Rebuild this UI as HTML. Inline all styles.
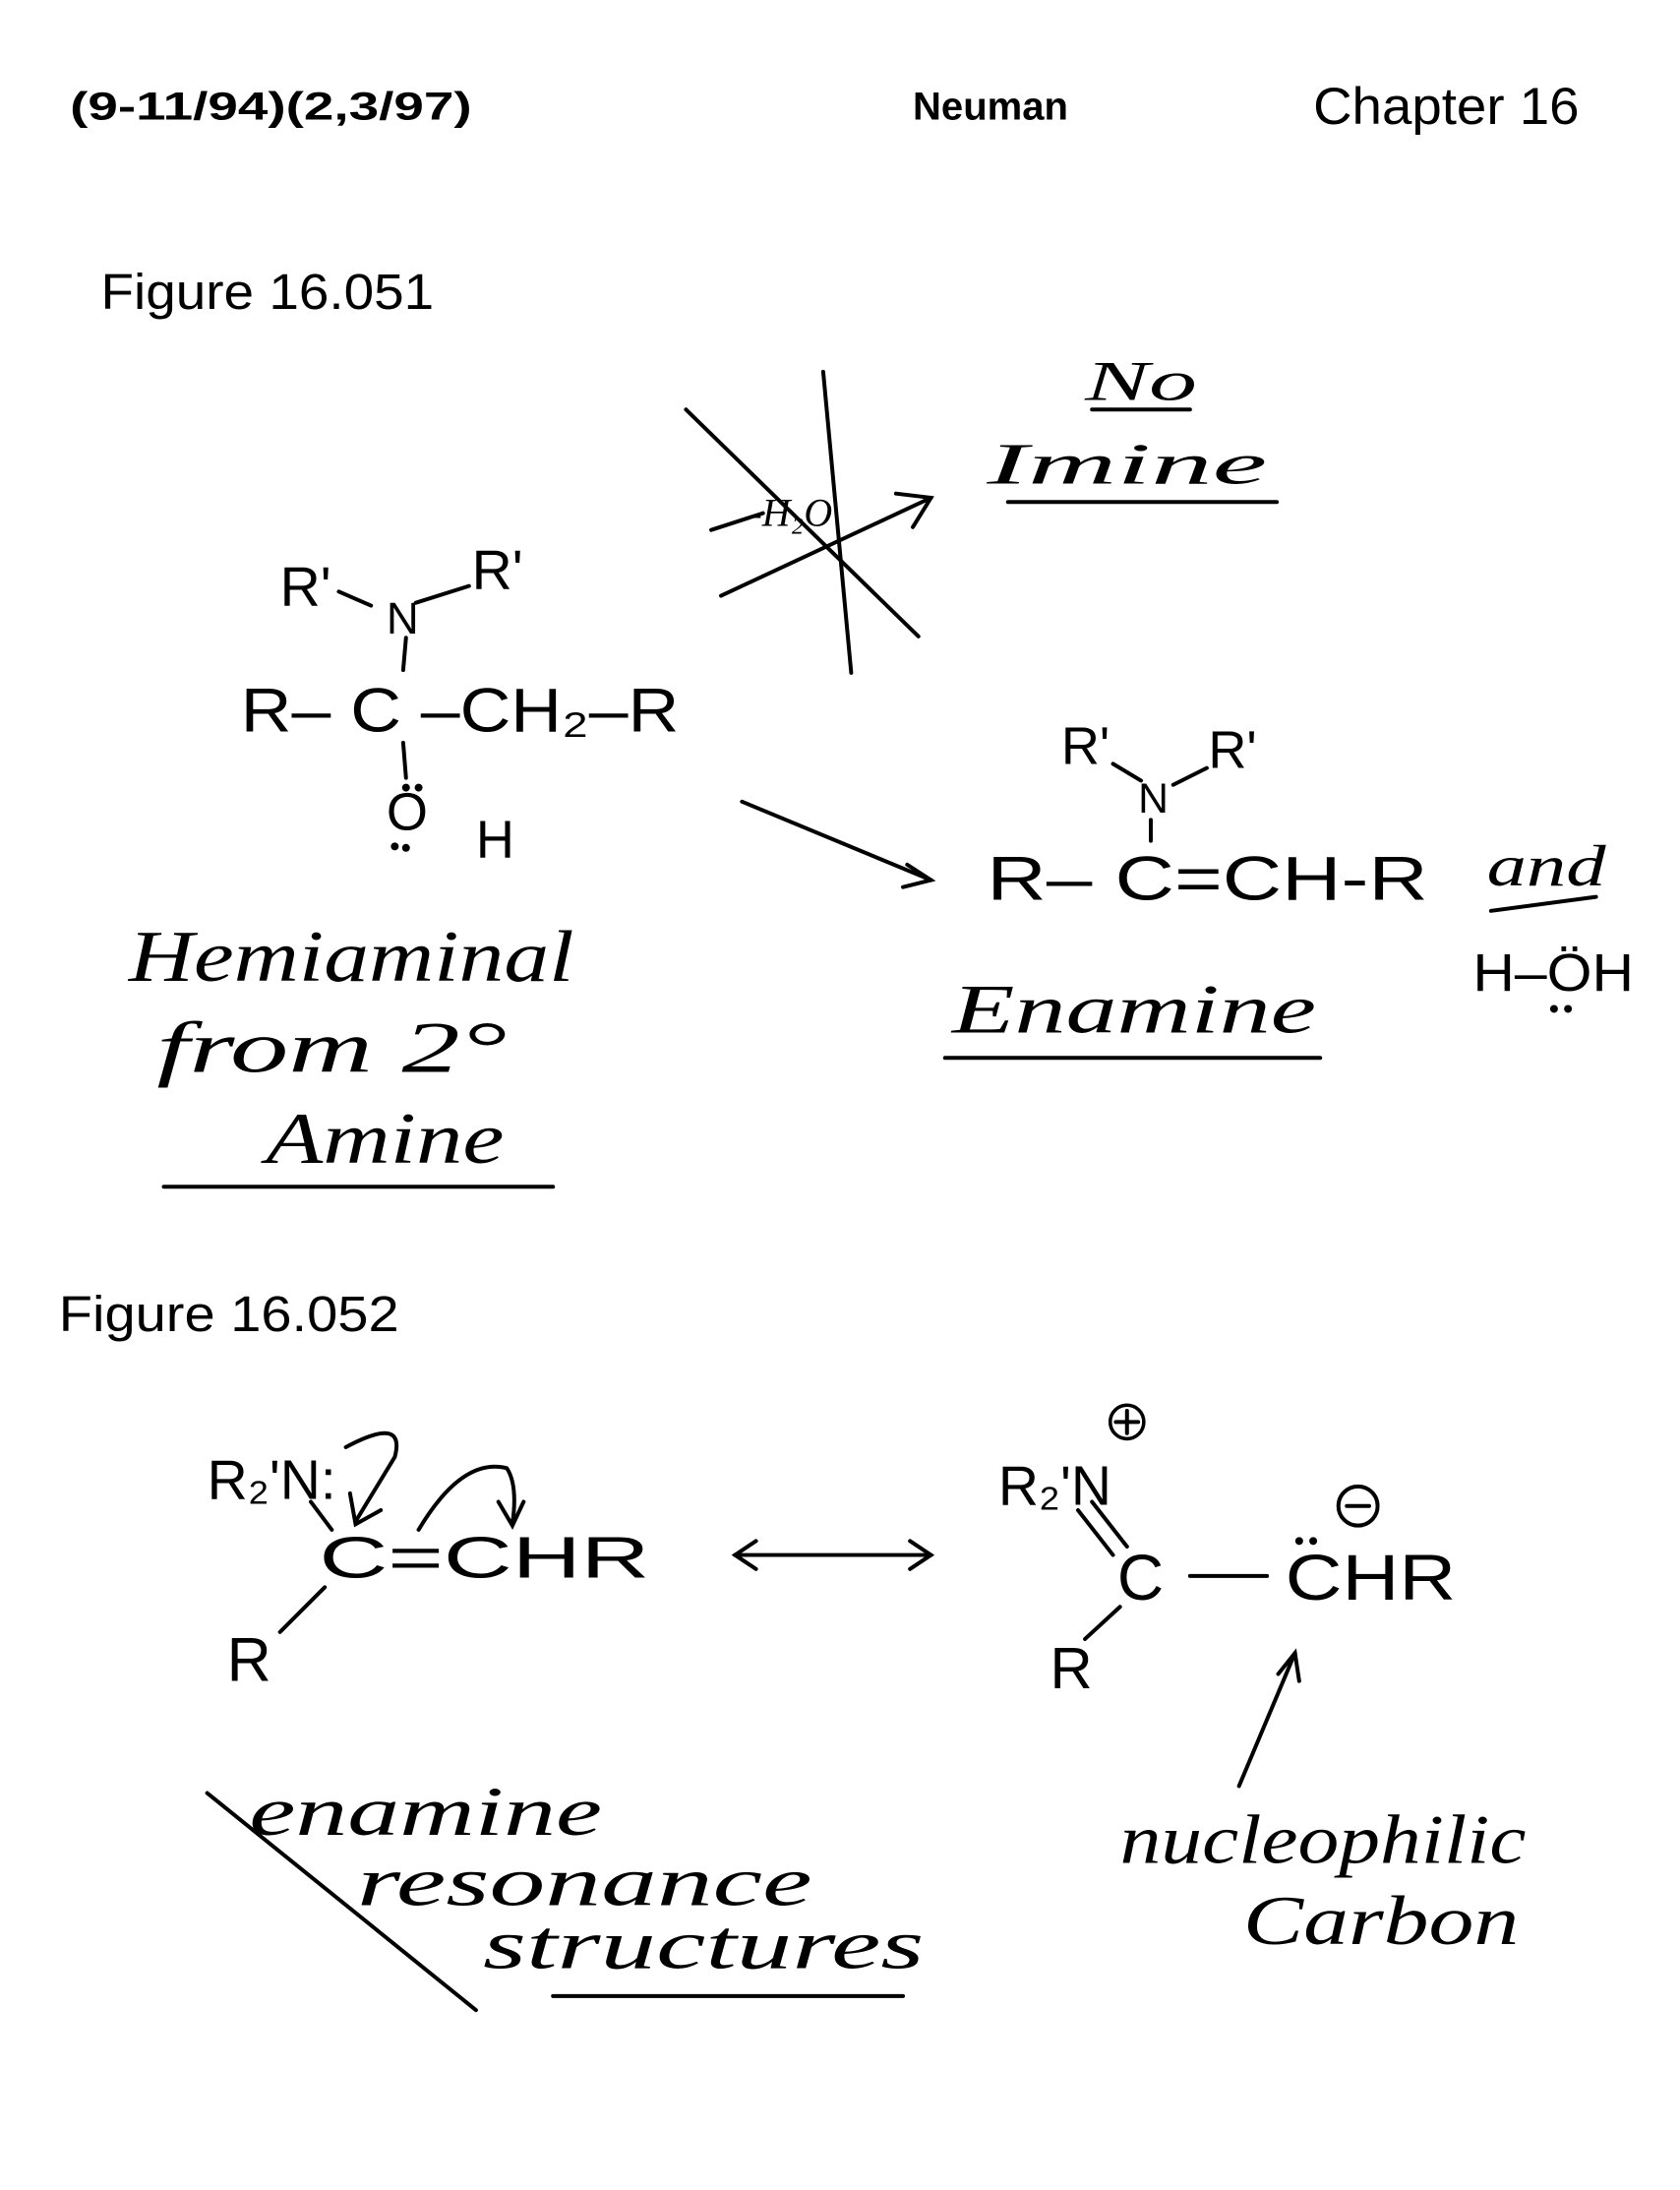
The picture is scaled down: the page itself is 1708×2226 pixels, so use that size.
<!DOCTYPE html>
<html><head><meta charset="utf-8"><style>
html,body{margin:0;padding:0;background:#fff}
svg{display:block}
.h{font-family:"Liberation Sans",sans-serif;fill:#000}
.w{font-family:"Liberation Serif",serif;font-style:italic;fill:#000}
.c{font-family:"Liberation Sans",sans-serif;fill:#000}
line,path,polyline{stroke:#000;stroke-width:2.8;fill:none;stroke-linecap:round}
</style></head><body>
<svg width="1708" height="2226" viewBox="0 0 1200 1563" xmlns="http://www.w3.org/2000/svg">
<text class="h" x="50" y="85" font-size="28" font-weight="bold" textLength="287" lengthAdjust="spacingAndGlyphs">(9-11/94)(2,3/97)</text>
<text class="h" x="652" y="85" font-size="28" font-weight="bold" textLength="111" lengthAdjust="spacingAndGlyphs">Neuman</text>
<text class="h" x="938" y="88" font-size="37" textLength="190" lengthAdjust="spacingAndGlyphs">Chapter 16</text>
<text class="h" x="72" y="220" font-size="36" textLength="238" lengthAdjust="spacingAndGlyphs">Figure 16.051</text>

<line x1="490" y1="292" x2="656" y2="454"/>
<line x1="588" y1="265" x2="608" y2="480"/>
<line x1="515" y1="425" x2="665" y2="355"/>
<polyline points="640,352 665,355 652,376"/>
<text class="w" x="535" y="375" font-size="28">-H₂O</text>
<line x1="508" y1="378" x2="545" y2="366"/>
<text class="w" x="775" y="285" font-size="40" textLength="80" lengthAdjust="spacingAndGlyphs">No</text>
<line x1="780" y1="292" x2="850" y2="292"/>
<text class="w" x="705" y="345" font-size="42" textLength="200" lengthAdjust="spacingAndGlyphs">Imine</text>
<line x1="720" y1="358" x2="912" y2="358"/>

<text class="c" x="200" y="432" font-size="40">R'</text>
<line x1="242" y1="422" x2="265" y2="432"/>
<text class="c" x="276" y="452" font-size="32">N</text>
<line x1="297" y1="430" x2="335" y2="418"/>
<text class="c" x="337" y="420" font-size="40">R'</text>
<line x1="290" y1="455" x2="288" y2="478"/>
<text class="c" x="172" y="522" font-size="44" textLength="313" lengthAdjust="spacingAndGlyphs">R– C –CH₂–R</text>
<line x1="288" y1="530" x2="290" y2="555"/>
<text class="c" x="276" y="592" font-size="38">O</text>
<circle cx="290" cy="562" r="2.8"/><circle cx="299" cy="562" r="2.8"/>
<circle cx="282" cy="604" r="2.8"/><circle cx="290" cy="605" r="2.8"/>
<text class="c" x="340" y="612" font-size="38">H</text>

<text class="w" x="92" y="700" font-size="52" textLength="318" lengthAdjust="spacingAndGlyphs">Hemiaminal</text>
<text class="w" x="112" y="765" font-size="52" textLength="250" lengthAdjust="spacingAndGlyphs">from 2°</text>
<text class="w" x="190" y="830" font-size="52" textLength="170" lengthAdjust="spacingAndGlyphs">Amine</text>
<line x1="117" y1="847" x2="395" y2="847"/>

<line x1="530" y1="572" x2="665" y2="628"/>
<polyline points="648,617 665,628 645,633"/>

<text class="c" x="758" y="545" font-size="38">R'</text>
<line x1="795" y1="545" x2="815" y2="557"/>
<text class="c" x="813" y="580" font-size="30">N</text>
<line x1="838" y1="560" x2="862" y2="548"/>
<text class="c" x="863" y="548" font-size="38">R'</text>
<line x1="822" y1="585" x2="822" y2="600"/>
<text class="c" x="705" y="642" font-size="44" textLength="315" lengthAdjust="spacingAndGlyphs">R– C=CH-R</text>
<text class="w" x="1062" y="632" font-size="42" textLength="85" lengthAdjust="spacingAndGlyphs">and</text>
<line x1="1065" y1="650" x2="1140" y2="640"/>
<text class="c" x="1052" y="707" font-size="38" textLength="115" lengthAdjust="spacingAndGlyphs">H–ÖH</text>
<circle cx="1110" cy="720" r="2.8"/><circle cx="1120" cy="720" r="2.8"/>
<text class="w" x="680" y="737" font-size="50" textLength="260" lengthAdjust="spacingAndGlyphs">Enamine</text>
<line x1="675" y1="755" x2="943" y2="755"/>

<text class="h" x="42" y="950" font-size="36" textLength="243" lengthAdjust="spacingAndGlyphs">Figure 16.052</text>

<text class="c" x="148" y="1070" font-size="40">R₂'N:</text>
<path d="M247,1033 Q290,1010 282,1040 L254,1086"/>
<polyline points="250,1066 254,1088 272,1078"/>
<line x1="222" y1="1072" x2="237" y2="1092"/>
<text class="c" x="228" y="1126" font-size="42" textLength="236" lengthAdjust="spacingAndGlyphs">C=CHR</text>
<path d="M299,1092 Q330,1040 362,1048 Q370,1060 366,1088"/>
<polyline points="356,1072 366,1089 374,1072"/>
<line x1="232" y1="1133" x2="200" y2="1165"/>
<text class="c" x="162" y="1200" font-size="44">R</text>

<line x1="525" y1="1110" x2="665" y2="1110"/>
<polyline points="540,1100 525,1110 540,1120"/>
<polyline points="650,1100 665,1110 650,1120"/>

<text class="c" x="713" y="1074" font-size="40">R₂'N</text>
<circle cx="805" cy="1015" r="12" fill="none" stroke="#000" stroke-width="2.5"/>
<line x1="797" y1="1015" x2="813" y2="1015"/><line x1="805" y1="1007" x2="805" y2="1023"/>
<line x1="770" y1="1078" x2="795" y2="1110"/>
<line x1="780" y1="1072" x2="805" y2="1104"/>
<text class="c" x="798" y="1142" font-size="46">C</text>
<line x1="850" y1="1125" x2="905" y2="1125"/>
<text class="c" x="918" y="1142" font-size="46" textLength="122" lengthAdjust="spacingAndGlyphs">CHR</text>
<circle cx="970" cy="1075" r="14" fill="none" stroke="#000" stroke-width="2.8"/>
<line x1="962" y1="1075" x2="978" y2="1075"/>
<circle cx="928" cy="1100" r="2.8"/><circle cx="938" cy="1100" r="2.8"/>
<line x1="800" y1="1147" x2="775" y2="1170"/>
<text class="c" x="750" y="1205" font-size="42">R</text>
<line x1="885" y1="1275" x2="925" y2="1180"/>
<polyline points="913,1195 925,1180 928,1200"/>

<text class="w" x="178" y="1310" font-size="50" textLength="252" lengthAdjust="spacingAndGlyphs">enamine</text>
<text class="w" x="255" y="1360" font-size="50" textLength="325" lengthAdjust="spacingAndGlyphs">resonance</text>
<text class="w" x="345" y="1405" font-size="50" textLength="315" lengthAdjust="spacingAndGlyphs">structures</text>
<line x1="148" y1="1280" x2="340" y2="1435"/>
<line x1="395" y1="1425" x2="645" y2="1425"/>
<text class="w" x="800" y="1330" font-size="50" textLength="290" lengthAdjust="spacingAndGlyphs">nucleophilic</text>
<text class="w" x="888" y="1388" font-size="50" textLength="197" lengthAdjust="spacingAndGlyphs">Carbon</text>
</svg>
</body></html>
